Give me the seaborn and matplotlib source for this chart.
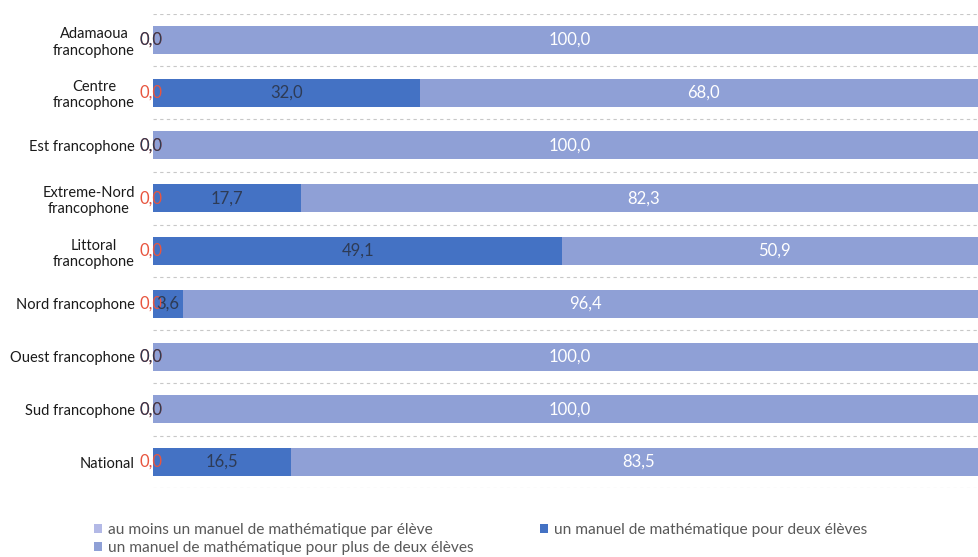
import matplotlib
matplotlib.use("Agg")
import matplotlib.pyplot as plt
import seaborn as sns
import pandas as pd
import numpy as np

# Data
regions = ["Adamaoua\nfrancophone", "Centre\nfrancophone", "Est francophone",
           "Extreme-Nord\nfrancophone", "Littoral\nfrancophone", "Nord francophone",
           "Ouest francophone", "Sud francophone", "National"]
par_eleve = [0.0, 0.0, 0.0, 0.0, 0.0, 0.0, 0.0, 0.0, 0.0]
deux_eleves = [0.0, 32.0, 0.0, 17.7, 49.1, 3.6, 0.0, 0.0, 16.5]
plus_deux = [100.0, 68.0, 100.0, 82.3, 50.9, 96.4, 100.0, 100.0, 83.5]

series_names = ["au moins un manuel de mathématique par élève",
                "un manuel de mathématique pour deux élèves",
                "un manuel de mathématique pour plus de deux élèves"]
colors = ["#B3B9E6", "#4472C4", "#8FA0D6"]

df = pd.DataFrame({"region": regions, "s1": par_eleve, "s2": deux_eleves, "s3": plus_deux})
df["c1"] = df["s1"]
df["c2"] = df["s1"] + df["s2"]
df["c3"] = df["c2"] + df["s3"]

sns.set_theme(style="white")
plt.rcParams["font.family"] = ["Lato", "DejaVu Sans"]

fig = plt.figure(figsize=(9.79, 5.57), dpi=100)
ax = fig.add_axes([0.1563, 0.123, 0.8437, 0.8527])

bw = 0.53
# stacked by drawing cumulative totals, widest first
sns.barplot(data=df, y="region", x="c3", color=colors[2], width=bw, label=series_names[2],
            ax=ax, saturation=1, orient="h", linewidth=0)
sns.barplot(data=df, y="region", x="c2", color=colors[1], width=bw, label=series_names[1],
            ax=ax, saturation=1, orient="h", linewidth=0)
sns.barplot(data=df, y="region", x="c1", color=colors[0], width=bw, label=series_names[0],
            ax=ax, saturation=1, orient="h", linewidth=0)

def fmt(v):
    return f"{v:.1f}".replace(".", ",")

for i, row in df.iterrows():
    ax.text(row["s1"] / 2 - 0.2, i, fmt(row["s1"]), ha="center", va="center",
            color="#E8553F", fontsize=12)
    ax.text(row["s1"] + row["s2"] / 2 - (0.2 if row["s2"] == 0 else 0), i, fmt(row["s2"]),
            ha="center", va="center", color="#2E3B55", fontsize=12)
    ax.text(row["c2"] + row["s3"] / 2, i, fmt(row["s3"]), ha="center", va="center",
            color="white", fontsize=12)

ax.set_xlim(0, 99.05)
ax.set_ylim(len(regions) - 0.5, -0.5)
ax.set_xticks([])
ax.set_xlabel("")
ax.set_ylabel("")
ax.set_yticks(range(len(regions)))
ax.set_yticklabels(regions, fontsize=10.5, color="#1A1A1A", multialignment="center")
ax.tick_params(axis="y", length=0, pad=13)
ax.set_yticks(np.arange(-0.5, len(regions), 1.0), minor=True)
ax.tick_params(axis="y", which="minor", length=0)
ax.grid(axis="y", which="minor", color="#C8C8C8", linestyle=(0, (3, 3)), linewidth=0.8)
ax.set_axisbelow(True)
for s in ax.spines.values():
    s.set_visible(False)

if ax.get_legend():
    ax.get_legend().remove()
handles, labels = ax.get_legend_handles_labels()
hmap = dict(zip(labels, handles))
order = [series_names[0], series_names[2], series_names[1]]
fig.legend([hmap[n] for n in order], order, loc="upper left",
           bbox_to_anchor=(86 / 979, 1 - 515 / 557), ncol=2, frameon=False,
           fontsize=11.2, labelcolor="#595959", handlelength=0.5, handleheight=0.5,
           handletextpad=0.4, columnspacing=4.3, labelspacing=0.3, borderpad=0)

fig.savefig("out.png", dpi=100)
